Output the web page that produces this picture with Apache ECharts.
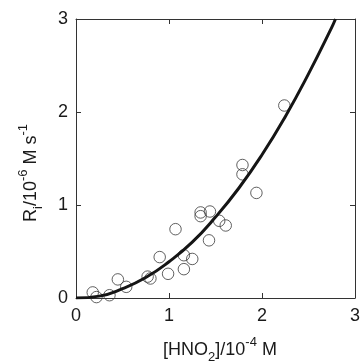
<!DOCTYPE html>
<html>
<head>
<meta charset="utf-8">
<script src="https://cdn.jsdelivr.net/npm/echarts@6/dist/echarts.min.js"></script>
<style>
html,body{margin:0;padding:0;background:#fff;}
#c{width:364px;height:362px;}
</style>
</head>
<body>
<div id="c"></div>
<script>
// Measured points: [HNO2] (10^-4 M) and Ri (10^-6 M s^-1)
var hno2 = [0.18, 0.22, 0.36, 0.45, 0.54, 0.77, 0.80, 0.90, 0.99, 1.07, 1.16, 1.16, 1.25, 1.34, 1.34, 1.44, 1.43, 1.54, 1.61, 1.79, 1.79, 1.94, 2.24];
var rate = [0.06, 0.01, 0.03, 0.20, 0.12, 0.23, 0.21, 0.44, 0.26, 0.74, 0.46, 0.31, 0.42, 0.92, 0.88, 0.93, 0.62, 0.83, 0.78, 1.43, 1.33, 1.13, 2.07];
// Fitted curve
var curveX = [0, 0.25, 0.5, 0.75, 1.0, 1.25, 1.5, 1.75, 2.0, 2.25, 2.5, 2.75, 2.79];
var curveY = [0, 0.02, 0.10, 0.22, 0.39, 0.60, 0.87, 1.18, 1.54, 1.95, 2.41, 2.91, 3.0];
// Tick labels
var xTickLabels = ['0', '1', '2', '3'];
var yTickLabels = ['0', '1', '2', '3'];

var FONT = '"Liberation Sans", Arial, sans-serif';
var AX = '#333';

var chart = echarts.init(document.getElementById('c'), null, {renderer: 'canvas'});

function pairs(a, b) { return a.map(function (v, i) { return [v, b[i]]; }); }

var richStyles = {
  sub: {fontSize: 13, lineHeight: 13, verticalAlign: 'bottom', fontFamily: FONT, fill: '#1a1a1a'},
  sup: {fontSize: 13, lineHeight: 20, verticalAlign: 'top', fontFamily: FONT, fill: '#1a1a1a'}
};

var option = {
  animation: false,
  backgroundColor: '#fff',
  grid: {left: 76, top: 19, right: 9, bottom: 64, containLabel: false},
  xAxis: [{
    type: 'value', min: 0, max: 3, interval: 1, position: 'bottom',
    axisLine: {show: true, onZero: false, lineStyle: {color: AX, width: 1}},
    axisTick: {show: true, inside: true, length: 5, lineStyle: {color: AX}},
    axisLabel: {margin: 9, fontSize: 18, fontFamily: FONT, color: '#1a1a1a',
      formatter: function (v) { return xTickLabels[Math.round(v)]; }},
    splitLine: {show: false}
  }, {
    type: 'value', min: 0, max: 3, interval: 1, position: 'top',
    axisLine: {show: true, onZero: false, lineStyle: {color: AX, width: 1}},
    axisTick: {show: true, inside: true, length: 5, lineStyle: {color: AX}},
    axisLabel: {show: false}, splitLine: {show: false}
  }],
  yAxis: [{
    type: 'value', min: 0, max: 3, interval: 1, position: 'left',
    axisLine: {show: true, onZero: false, lineStyle: {color: AX, width: 1}},
    axisTick: {show: true, inside: true, length: 5, lineStyle: {color: AX}},
    axisLabel: {margin: 8, fontSize: 18, fontFamily: FONT, color: '#1a1a1a',
      formatter: function (v) { return yTickLabels[Math.round(v)]; }},
    splitLine: {show: false}
  }, {
    type: 'value', min: 0, max: 3, interval: 1, position: 'right',
    axisLine: {show: true, onZero: false, lineStyle: {color: AX, width: 1}},
    axisTick: {show: true, inside: true, length: 5, lineStyle: {color: AX}},
    axisLabel: {show: false}, splitLine: {show: false}
  }],
  graphic: [{
    type: 'text', x: 220, y: 350, z: 10,
    style: {
      text: '[HNO{sub|2}]/10{sup|-4} M',
      fontSize: 18, fontFamily: FONT, fill: '#1a1a1a', lineHeight: 28,
      align: 'center', verticalAlign: 'middle', rich: richStyles
    }
  }, {
    type: 'text', x: 31, y: 173, rotation: Math.PI / 2, z: 10,
    style: {
      text: 'R{sub|i}/10{sup|-6} M s{sup|-1}',
      fontSize: 18, fontFamily: FONT, fill: '#1a1a1a', lineHeight: 28,
      align: 'center', verticalAlign: 'middle', rich: richStyles
    }
  }],
  series: [{
    type: 'scatter',
    data: pairs(hno2, rate),
    symbol: 'circle', symbolSize: 11.5,
    itemStyle: {color: 'rgba(0,0,0,0)', borderColor: '#3a3a3a', borderWidth: 1},
    z: 2
  }, {
    type: 'line',
    data: pairs(curveX, curveY),
    smooth: true, showSymbol: false, symbol: 'none',
    lineStyle: {color: '#151515', width: 3},
    clip: true,
    z: 3
  }]
};
chart.setOption(option);
</script>
</body>
</html>
